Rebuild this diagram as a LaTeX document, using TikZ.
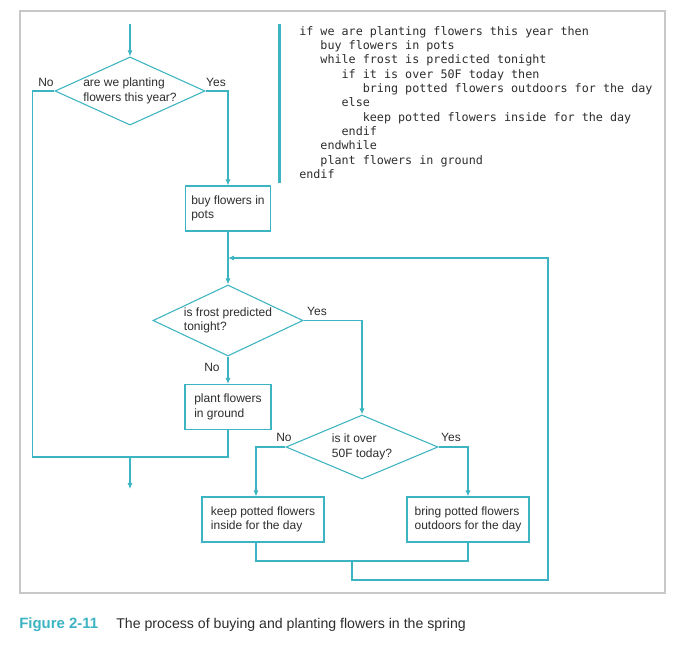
\documentclass[tikz,border=0pt]{standalone}
\usepackage{fontspec}
\setmainfont{Liberation Sans}
\setmonofont{DejaVu Sans Mono}
\usetikzlibrary{shapes.geometric,arrows.meta}
\definecolor{flowteal}{RGB}{60,180,193}
\definecolor{framegray}{RGB}{200,200,200}
\definecolor{inkgray}{RGB}{45,45,45}
\newcommand{\pind}[1]{\hspace*{#1em}}

\begin{document}
\begin{tikzpicture}[x=0.75pt,y=0.75pt,yscale=-1,
  flow/.style={draw=flowteal,line width=0.8pt},
  arr/.style={flow,-{Latex[length=4.5pt,width=3.8pt]}},
  decision/.style={diamond,draw=flowteal,line width=0.8pt,inner sep=0pt,aspect=2.2,align=left,text=inkgray,font=\fontsize{9}{10.9}\selectfont},
  process/.style={rectangle,draw=flowteal,line width=0.8pt,minimum height=33.75pt,align=left,text=inkgray,font=\fontsize{9}{10.9}\selectfont},
  lbl/.style={text=inkgray,inner sep=0pt,text height=6.45pt,text depth=0pt,font=\fontsize{9}{10.9}\selectfont},
  code/.style={anchor=north west,inner sep=0pt,align=left,text=inkgray,font=\ttfamily\fontsize{8.8}{10.73}\selectfont}]
%set diagram size to the page
\fill[white] (0,0) rectangle (681,651);
\useasboundingbox (0,0) rectangle (681,651);

%Shape: Frame
\draw [framegray,line width=1.1pt] (20,11) rectangle (665,593);
%Straight Lines: bar beside the pseudocode
\draw [flowteal,line width=2.25pt] (279,24) -- (279,183);

% Text Node: pseudocode
\node [code] (pseudo) at (299,26) {if we are planting flowers this year then\\
\pind{1.806}buy flowers in pots\\
\pind{1.806}while frost is predicted tonight\\
\pind{3.612}if it is over 50F today then\\
\pind{5.418}bring potted flowers outdoors for the day\\
\pind{3.612}else\\
\pind{5.418}keep potted flowers inside for the day\\
\pind{3.612}endif\\
\pind{1.806}endwhile\\
\pind{1.806}plant flowers in ground\\
endif};

%Shapes: decisions and steps
\coordinate (start) at (130,24);
\node [decision,minimum width=112.5pt,minimum height=51pt] (plantq) at (130,91) {are we planting\\flowers this year?};
\node [process,minimum width=63.75pt] (buypots) at (228,208.5) {buy flowers in\\pots};
\coordinate (loopin) at (228,258);
\node [decision,minimum width=112.5pt,minimum height=53.25pt] (frostq) at (228,320.5) {is frost predicted\\tonight?};
\node [process,minimum width=64.5pt] (plantground) at (228,407) {plant flowers\\in ground};
\coordinate (exit) at (130,457);
\coordinate (stop) at (130,489);
\node [decision,minimum width=114pt,minimum height=48pt] (warmq) at (362,447) {is it over\\50F today?};
\node [process,minimum width=91.5pt] (keepin) at (263,519.5) {keep potted flowers\\inside for the day};
\node [process,minimum width=91.5pt] (bringout) at (468,519.5) {bring potted flowers\\outdoors for the day};
\coordinate (merge) at (352,561);
\coordinate (loopcorner) at (548,580);

%Straight Lines
\draw [arr] (start) -- (plantq.north);
\draw [flow] (plantq.west) -- ++(-22,0) |- (exit);
\draw [flow] (plantground.south) |- (exit);
\draw [arr] (exit) -- (stop);
\draw [arr] (plantq.east) -| (buypots.north);
\draw [arr] (buypots.south) -- (frostq.north);
\draw [arr] (frostq.south) -- (plantground.north);
\draw [arr] (frostq.east) -| (warmq.north);
\draw [arr] (warmq.west) -| ([xshift=-5.25pt]keepin.north);
\draw [arr] (warmq.east) -| (bringout.north);
\draw [flow] ([xshift=-5.25pt]keepin.south) |- (merge) -| (bringout.south);
\draw [arr] (merge) |- (loopcorner) |- (loopin);

% Text Node: branch labels
\node [lbl] (noplant) at (46,82) {No};
\node [lbl] (yesplant) at (216,82) {Yes};
\node [lbl] (yesfrost) at (317,311) {Yes};
\node [lbl] (nofrost) at (212,367) {No};
\node [lbl] (nowarm) at (284,437) {No};
\node [lbl] (yeswarm) at (451,437) {Yes};

% Text Node: caption
\node [anchor=base west,inner sep=0pt,text=flowteal,font=\bfseries\fontsize{11.2}{12}\selectfont] (figlabel) at (19,628) {Figure 2-11};
\node [anchor=base west,inner sep=0pt,text=inkgray,font=\fontsize{10.6}{12}\selectfont] (figtitle) at (116,628) {The process of buying and planting flowers in the spring};
\end{tikzpicture}
\end{document}
